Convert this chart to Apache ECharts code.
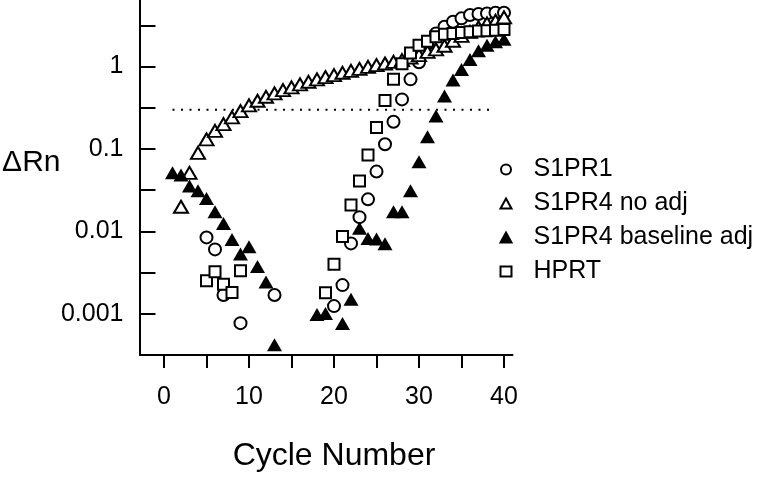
<!DOCTYPE html>
<html><head><meta charset="utf-8">
<script src="https://cdn.jsdelivr.net/npm/echarts@6/dist/echarts.min.js"></script>
<style>html,body{margin:0;padding:0;background:#fff}#chart{width:763px;height:478px}</style>
</head><body><div id="chart"></div>
<script>
// ---- data ----
const seriesNames = ['S1PR1', 'S1PR4 no adj', 'S1PR4 baseline adj', 'HPRT'];

const s1pr1Cycles = [5, 6, 7, 9, 13, 20, 21, 22, 23, 24, 25, 26, 27, 28, 29, 30, 31, 32, 33, 34, 35, 36, 37, 38, 39, 40];
const s1pr1Values = [0.00845, 0.00605, 0.00169, 0.00077, 0.00169, 0.00124, 0.00223, 0.00715, 0.0149, 0.0245, 0.0532, 0.114, 0.214, 0.400, 0.700, 1.13, 1.91, 2.53, 3.04, 3.50, 3.85, 4.22, 4.34, 4.42, 4.50, 4.50];

const noAdjCycles = [2, 3, 4, 5, 6, 7, 8, 9, 10, 11, 12, 13, 14, 15, 16, 17, 18, 19, 20, 21, 22, 23, 24, 25, 26, 27, 28, 29, 30, 31, 32, 33, 34, 35, 36, 37, 38, 39, 40];
const noAdjValues = [0.0199, 0.0514, 0.0899, 0.131, 0.166, 0.200, 0.242, 0.288, 0.338, 0.385, 0.430, 0.473, 0.519, 0.560, 0.608, 0.654, 0.700, 0.746, 0.789, 0.841, 0.889, 0.940, 0.994, 1.04, 1.09, 1.14, 1.20, 1.29, 1.38, 1.51, 1.62, 1.79, 2.06, 2.36, 2.64, 2.99, 3.34, 3.60, 3.95];

const baseAdjCycles = [1, 2, 3, 4, 5, 6, 7, 8, 9, 10, 11, 12, 13, 18, 19, 21, 22, 23, 24, 25, 26, 27, 28, 29, 30, 31, 32, 33, 34, 35, 36, 37, 38, 39, 40];
const baseAdjValues = [0.0514, 0.0482, 0.0355, 0.0311, 0.0251, 0.0173, 0.0125, 0.0080, 0.0053, 0.0065, 0.00376, 0.00244, 0.00042, 0.00098, 0.00101, 0.00076, 0.0015, 0.0109, 0.0082, 0.0081, 0.0071, 0.0173, 0.0173, 0.0311, 0.070, 0.141, 0.251, 0.439, 0.686, 0.925, 1.22, 1.56, 1.82, 2.00, 2.14];

const hprtCycles = [5, 6, 7, 8, 9, 19, 20, 21, 22, 23, 24, 25, 26, 27, 28, 29, 30, 31, 32, 33, 34, 35, 36, 37, 38, 39, 40];
const hprtValues = [0.00251, 0.00324, 0.00229, 0.00181, 0.00333, 0.0018, 0.00398, 0.0087, 0.0209, 0.0408, 0.0843, 0.182, 0.389, 0.700, 1.08, 1.46, 1.82, 2.03, 2.30, 2.47, 2.53, 2.60, 2.64, 2.70, 2.72, 2.77, 2.81];

const thresholdCycles = [1, 39];
const thresholdValue = 0.3;

const xTickValues = [0, 5, 10, 15, 20, 25, 30, 35, 40];
const xLabelValues = [0, 10, 20, 30, 40];
const yTickValues = [0.0003162, 0.001, 0.003162, 0.01, 0.03162, 0.1, 0.3162, 1, 3.162];
const yLabelValues = [0.001, 0.01, 0.1, 1];
const xTitle = 'Cycle Number';
const yTitle = '\u0394Rn';

// ---- chart ----
const FONT = '"Liberation Sans", Arial, sans-serif';
const pairs = (xs, ys) => xs.map((x, i) => [x, ys[i]]);
const openStyle = { color: '#ffffff', borderColor: '#000000', borderWidth: 2, opacity: 1 };

const chart = echarts.init(document.getElementById('chart'), null, { renderer: 'canvas' });
chart.setOption({
  animation: false,
  backgroundColor: '#ffffff',
  grid: { left: 155.5, top: 0, width: 357, height: 355, containLabel: false, outerBoundsMode: 'none' },
  xAxis: {
    type: 'value', min: -1, max: 41,
    axisLine: { show: true, onZero: false, lineStyle: { color: '#000', width: 2 } },
    axisTick: { show: true, inside: false, length: 13, customValues: xTickValues, lineStyle: { color: '#000', width: 2 } },
    axisLabel: { customValues: xLabelValues, margin: 30, fontSize: 25, color: '#000', fontFamily: FONT },
    splitLine: { show: false },
    name: xTitle, nameLocation: 'middle', nameGap: 85,
    nameTextStyle: { fontSize: 32, color: '#000', fontFamily: FONT }
  },
  yAxis: {
    type: 'log', logBase: 10, min: 0.0003162, max: 6.43,
    offset: 16,
    axisLine: { show: true, onZero: false, lineStyle: { color: '#000', width: 2 } },
    axisTick: { show: true, inside: true, length: 16, customValues: yTickValues, lineStyle: { color: '#000', width: 2 } },
    axisLabel: {
      customValues: yLabelValues,
      margin: 16, fontSize: 25, color: '#000', fontFamily: FONT,
      formatter: function (v) { return String(+(+v).toPrecision(3)); }
    },
    splitLine: { show: false },
    name: yTitle, nameLocation: 'middle', nameRotate: 0, nameGap: 79, nameMoveOverlap: false,
    nameTextStyle: { fontSize: 30, color: '#000', fontFamily: FONT, verticalAlign: 'bottom', lineHeight: 30 }
  },
  legend: {
    data: seriesNames, orient: 'vertical', left: 499.5, top: 157,
    itemWidth: 11, itemHeight: 10, itemGap: 9, padding: 0, selectedMode: false,
    itemStyle: { borderWidth: 2 },
    textStyle: { fontSize: 25, color: '#000', fontFamily: FONT, lineHeight: 25, padding: [0, 0, 0, 17] }
  },
  series: [
    { name: 'threshold', type: 'line', data: pairs(thresholdCycles, thresholdCycles.map(() => thresholdValue)),
      symbol: 'none', silent: true, z: 1, lineStyle: { color: '#000', width: 2, type: [2, 6.5] } },
    { name: seriesNames[0], type: 'scatter', symbol: 'circle', symbolSize: 12, z: 2,
      itemStyle: openStyle, emphasis: { disabled: true }, data: pairs(s1pr1Cycles, s1pr1Values) },
    { name: seriesNames[1], type: 'scatter', symbol: 'triangle', symbolSize: [14, 12], z: 2,
      itemStyle: openStyle, emphasis: { disabled: true }, data: pairs(noAdjCycles, noAdjValues) },
    { name: seriesNames[2], type: 'scatter', symbol: 'triangle', symbolSize: [15, 13], z: 2,
      itemStyle: { color: '#000', borderColor: '#000', borderWidth: 0, opacity: 1 }, emphasis: { disabled: true }, data: pairs(baseAdjCycles, baseAdjValues) },
    { name: seriesNames[3], type: 'scatter', symbol: 'rect', symbolSize: 11, z: 2,
      itemStyle: openStyle, emphasis: { disabled: true }, data: pairs(hprtCycles, hprtValues) }
  ]
});
</script>
</body></html>
